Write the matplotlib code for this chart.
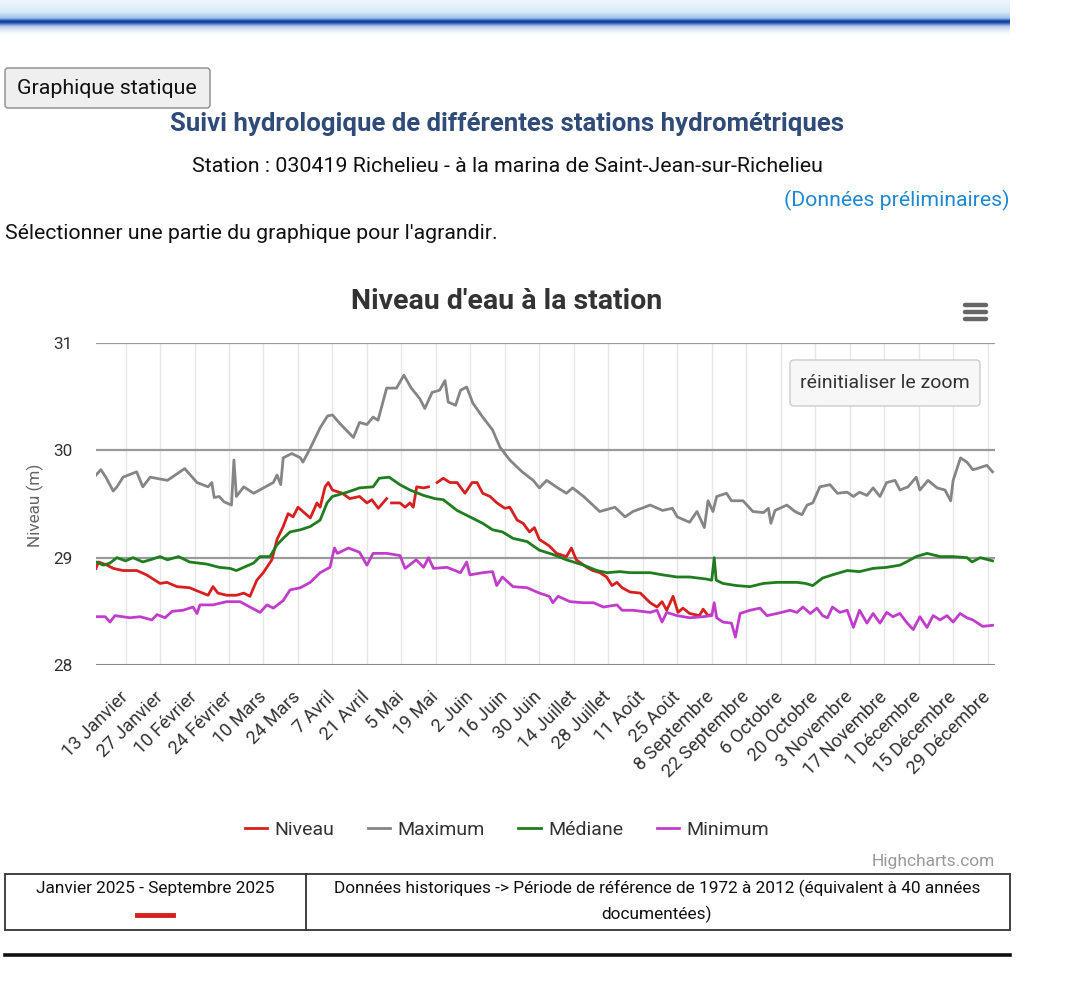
import matplotlib
matplotlib.use('Agg')
import numpy as np
import matplotlib.pyplot as plt
from matplotlib.patches import FancyBboxPatch, Rectangle
from matplotlib.colors import LinearSegmentedColormap
from matplotlib.ticker import FixedLocator, FixedFormatter

plt.rcParams['font.family'] = ['Roboto', 'DejaVu Sans']

# x axis ticks (day of year, 1 Jan = 0)
tick_labels = ['13 Janvier', '27 Janvier', '10 Février', '24 Février', '10 Mars', '24 Mars',
               '7 Avril', '21 Avril', '5 Mai', '19 Mai', '2 Juin', '16 Juin', '30 Juin',
               '14 Juillet', '28 Juillet', '11 Août', '25 Août', '8 Septembre', '22 Septembre',
               '6 Octobre', '20 Octobre', '3 Novembre', '17 Novembre', '1 Décembre',
               '15 Décembre', '29 Décembre']
tick_days = [12 + 14 * i for i in range(len(tick_labels))]

# Maximum historique
max_days = [0, 2, 4, 7, 8.5, 11, 16.5, 19, 22, 29, 36, 41, 45.5, 47, 48, 50, 52, 55, 56, 57,
            60, 64, 68, 72, 73.5, 75, 76, 79.5, 83, 84, 87, 91, 94, 96, 99, 104.5, 107, 110,
            112.5, 114.5, 118, 122, 125, 128, 131.5, 133.5, 136.5, 139.5, 141.7, 143, 146, 148,
            150.5, 153, 157, 161, 164, 168, 173, 177.5, 180, 183, 187.5, 191, 193.5, 198, 204.5,
            210.7, 214.8, 218, 225, 230, 234, 236, 241, 244, 247, 248.5, 250.5, 252, 256, 258,
            262.7, 266.7, 271, 273, 274, 275.7, 280.5, 283.8, 286.6, 288.7, 291, 293.9, 298,
            301, 305, 307.5, 310, 313, 315.5, 318.3, 321, 324.4, 326.4, 329.7, 333, 334.5,
            337.8, 341.5, 344.7, 347, 348, 351, 353.6, 356, 357.7, 359, 361.7, 364]
max_vals = [29.77, 29.82, 29.75, 29.62, 29.66, 29.75, 29.80, 29.66, 29.75, 29.72, 29.83, 29.70,
            29.66, 29.70, 29.56, 29.57, 29.52, 29.49, 29.91, 29.57, 29.66, 29.60, 29.65, 29.70,
            29.77, 29.68, 29.93, 29.97, 29.93, 29.89, 30.02, 30.21, 30.32, 30.33, 30.25, 30.12,
            30.26, 30.24, 30.31, 30.28, 30.58, 30.58, 30.70, 30.58, 30.48, 30.39, 30.54, 30.56,
            30.65, 30.45, 30.42, 30.56, 30.59, 30.44, 30.31, 30.19, 30.03, 29.91, 29.80, 29.72,
            29.65, 29.72, 29.65, 29.60, 29.65, 29.57, 29.43, 29.47, 29.38, 29.43, 29.49, 29.44,
            29.46, 29.38, 29.33, 29.43, 29.28, 29.53, 29.43, 29.57, 29.60, 29.53, 29.53, 29.43,
            29.42, 29.46, 29.32, 29.44, 29.49, 29.43, 29.40, 29.49, 29.51, 29.66, 29.68, 29.60,
            29.61, 29.57, 29.61, 29.58, 29.65, 29.57, 29.70, 29.72, 29.63, 29.66, 29.75, 29.63,
            29.72, 29.65, 29.63, 29.53, 29.72, 29.93, 29.89, 29.82, 29.83, 29.84, 29.86, 29.80]

# Mediane historique
med_days = [0, 3, 5.7, 8.5, 12, 15, 19, 22, 26, 29, 33.5, 38, 45, 50, 54.4, 57, 60, 64, 66.6,
            70.6, 73.5, 76, 78.8, 83, 87, 91, 93.8, 96, 102, 107, 112.5, 115, 119, 123.4, 127.5,
            133, 137.6, 141, 146.6, 151.8, 157, 161, 165, 169.3, 175, 180, 185.5, 191, 198,
            203.4, 207.5, 212.7, 216.8, 225, 230, 235.9, 241, 248, 250, 251, 251.8, 254.5, 260,
            265.5, 271, 276.5, 281, 284.6, 288, 291, 295, 299, 305, 310, 315.5, 321, 326.4, 329,
            333, 337.4, 342.7, 348, 353.6, 355.7, 359, 364]
med_vals = [28.96, 28.93, 28.95, 29.00, 28.97, 29.00, 28.96, 28.98, 29.01, 28.98, 29.01, 28.96,
            28.94, 28.91, 28.90, 28.88, 28.91, 28.95, 29.01, 29.01, 29.12, 29.18, 29.24, 29.26,
            29.29, 29.35, 29.51, 29.57, 29.61, 29.65, 29.66, 29.74, 29.75, 29.68, 29.63, 29.58,
            29.55, 29.54, 29.44, 29.38, 29.32, 29.26, 29.24, 29.18, 29.15, 29.07, 29.03, 28.98,
            28.93, 28.88, 28.86, 28.87, 28.86, 28.86, 28.84, 28.82, 28.82, 28.80, 28.79, 29.00,
            28.79, 28.76, 28.74, 28.73, 28.76, 28.77, 28.77, 28.77, 28.76, 28.74, 28.81, 28.84,
            28.88, 28.87, 28.90, 28.91, 28.93, 28.96, 29.01, 29.04, 29.01, 29.01, 29.00, 28.96,
            29.00, 28.97]

# Minimum historique
min_days = [0, 3.7, 5.7, 7.7, 13.8, 17.9, 22.7, 24.8, 28, 30.9, 35.3, 39.4, 41, 42.2, 47.5, 53,
            58.5, 62.5, 66.6, 69.4, 72, 76, 78.8, 83, 87, 91, 95, 96.8, 98, 102.5, 107, 110,
            112.5, 118, 123.4, 125.5, 130, 133, 135, 137, 142.5, 148, 150.5, 151.8, 157, 161,
            162.7, 165, 169.3, 175, 180, 184, 185.5, 187.6, 192.5, 198, 202, 206, 211.5, 213.6,
            218, 225, 227.8, 229.8, 231.7, 235.9, 241, 246.5, 250, 251, 252, 254.5, 258, 259.6,
            261.5, 265.5, 269.6, 272.4, 276.5, 281.8, 284.6, 287, 290, 292.7, 295, 297, 299,
            302, 305, 307.5, 310, 313, 315.5, 318.3, 321, 323.6, 326.4, 329, 331.8, 334.5,
            337.4, 339.9, 342.7, 345.5, 348, 350.8, 353.6, 356, 360, 364]
min_vals = [28.45, 28.45, 28.40, 28.46, 28.44, 28.45, 28.42, 28.47, 28.44, 28.50, 28.51, 28.54,
            28.48, 28.56, 28.56, 28.59, 28.59, 28.54, 28.49, 28.56, 28.53, 28.60, 28.70, 28.72,
            28.77, 28.86, 28.91, 29.09, 29.04, 29.09, 29.05, 28.93, 29.04, 29.04, 29.02, 28.90,
            28.98, 28.91, 29.00, 28.90, 28.91, 28.86, 28.96, 28.84, 28.86, 28.87, 28.74, 28.82,
            28.73, 28.72, 28.67, 28.64, 28.58, 28.64, 28.59, 28.58, 28.58, 28.54, 28.56, 28.51,
            28.51, 28.49, 28.51, 28.40, 28.49, 28.46, 28.44, 28.45, 28.46, 28.58, 28.44, 28.40,
            28.39, 28.26, 28.48, 28.51, 28.53, 28.46, 28.48, 28.51, 28.49, 28.54, 28.48, 28.53,
            28.46, 28.44, 28.54, 28.49, 28.51, 28.35, 28.51, 28.39, 28.48, 28.39, 28.49, 28.45,
            28.48, 28.40, 28.33, 28.45, 28.35, 28.46, 28.42, 28.46, 28.40, 28.48, 28.44, 28.42,
            28.36, 28.37]

# Niveau 2025 (nan = donnees manquantes)
niv_days = [0, 1, 4.5, 7, 11, 16.6, 20.5, 26, 28.8, 32.9, 38, 42.2, 45.5, 47.5, 49.5, 53, 57, 60,
            62.5, 65.3, 67.9, 71.4, 73.5, 76, 78, 80, 82, 87, 89.7, 91, 93, 94.3, 96, 100, 103,
            107, 110, 112, 114.6, 118, 119, 120, 123.4, 125.5, 127.5, 128.8, 130.2, 133, 135,
            136.5, 138.5, 141, 143.7, 146.6, 149.8, 152.7, 154.7, 157, 160, 162.8, 166, 168,
            171, 173.4, 176, 178, 180, 184, 187, 191, 193, 195, 199.3, 201.7, 204.6, 207.3,
            209.5, 211.5, 213.6, 216.8, 221, 225, 227.8, 229.8, 231.7, 234.3, 236.3, 238.3, 241,
            245, 246.5, 248.5, 250]
niv_vals = [28.90, 28.96, 28.93, 28.90, 28.88, 28.88, 28.84, 28.76, 28.77, 28.73, 28.72, 28.68,
            28.65, 28.73, 28.67, 28.65, 28.65, 28.67, 28.64, 28.79, 28.86, 28.98, 29.17, 29.29,
            29.41, 29.38, 29.47, 29.37, 29.51, 29.47, 29.66, 29.70, 29.63, 29.60, 29.55, 29.57,
            29.51, 29.54, 29.46, 29.55, np.nan, 29.51, 29.51, 29.47, 29.51, 29.47, 29.66, 29.65,
            29.66, np.nan, 29.70, 29.74, 29.70, 29.70, 29.60, 29.70, 29.70, 29.60, 29.57, 29.51,
            29.46, 29.47, 29.35, 29.32, 29.24, 29.28, 29.17, 29.11, 29.04, 29.01, 29.09, 28.98,
            28.91, 28.88, 28.86, 28.82, 28.74, 28.77, 28.72, 28.68, 28.67, 28.58, 28.54, 28.59,
            28.51, 28.64, 28.49, 28.53, 28.48, 28.46, 28.52, 28.46, 28.47]

W, H = 1080, 988
fig = plt.figure(figsize=(W / 100., H / 100.), dpi=100)
fig.patch.set_facecolor('white')

def fx(x):
    return x / float(W)

def fy(y):
    return 1 - y / float(H)

# chart area
x0, x1, ytop, ybot = 96, 995, 343, 665
ax = fig.add_axes([fx(x0), fy(ybot), fx(x1 - x0), (ybot - ytop) / float(H)])
ax.set_xlim(0, 365)
ax.set_ylim(28, 31)
for s in ax.spines.values():
    s.set_visible(False)

for d in tick_days:
    ax.axvline(d, color='#e6e6e6', lw=1, zorder=0)
for v in [29, 30, 31]:
    ax.axhline(v, color='#9a9a9a', lw=1.6, zorder=1)
ax.axhline(28, color='#888888', lw=2.2, zorder=1)

c_niv, c_max, c_med, c_min = '#d71f1f', '#858585', '#1f7d1f', '#c13ccb'
l1, = ax.plot(niv_days, niv_vals, color=c_niv, lw=2.0, zorder=3, label='Niveau')
l2, = ax.plot(max_days, max_vals, color=c_max, lw=2.0, zorder=3, label='Maximum')
l3, = ax.plot(med_days, med_vals, color=c_med, lw=2.0, zorder=3, label='Médiane')
l4, = ax.plot(min_days, min_vals, color=c_min, lw=2.0, zorder=3, label='Minimum')

ax.set_yticks([28, 29, 30, 31])
ax.set_yticklabels(['28', '29', '30', '31'])
ax.xaxis.set_major_locator(FixedLocator(tick_days))
ax.xaxis.set_major_formatter(FixedFormatter(tick_labels))
ax.tick_params(axis='y', length=0, pad=17, labelsize=12.3, labelcolor='#333333')
ax.tick_params(axis='x', length=0, pad=21, labelsize=13.2, labelcolor='#333333')
for lab in ax.get_xticklabels():
    lab.set_rotation(45)
    lab.set_ha('right')
    lab.set_va('center')
    lab.set_rotation_mode('anchor')

ax.legend(handles=[l1, l2, l3, l4], loc='center', ncol=4, frameon=False,
          bbox_to_anchor=(fx(507), fy(830)), bbox_transform=fig.transFigure,
          fontsize=14, handlelength=1.15, handletextpad=0.4, columnspacing=1.7,
          labelcolor='#333333')

# page overlay in pixel coordinates
pg = fig.add_axes([0, 0, 1, 1])
pg.set_xlim(0, W)
pg.set_ylim(H, 0)
pg.axis('off')
pg.patch.set_visible(False)
pg.set_zorder(5)

# top banner
band = LinearSegmentedColormap.from_list('band', [(0.0, '#eef7fe'), (0.34, '#d9ebfa'),
                                                  (0.52, '#9dbfe9'), (0.58, '#2a5cb8'),
                                                  (0.62, '#0c3590'), (0.66, '#2a5cb8'),
                                                  (0.75, '#b6c9ea'), (0.87, '#e6ecf6'),
                                                  (1.0, '#ffffff')])
grad = np.linspace(0, 1, 140).reshape(-1, 1)
pg.imshow(grad, cmap=band, extent=(0, 1010, 35, 0), aspect='auto', interpolation='bilinear')
pg.set_xlim(0, W)
pg.set_ylim(H, 0)

# bouton Graphique statique
pg.add_patch(FancyBboxPatch((5, 68), 205, 40, boxstyle='round,pad=0,rounding_size=3',
                            fc='#efefef', ec='#8a8a8a', lw=1))
pg.text(107, 89, 'Graphique statique', ha='center', va='center', fontsize=15.4, color='#111111')

pg.text(507, 124, 'Suivi hydrologique de différentes stations hydrométriques', ha='center',
        va='center', fontsize=18.5, fontweight='bold', color='#2f4b78')
pg.text(507, 167, 'Station : 030419 Richelieu - à la marina de Saint-Jean-sur-Richelieu',
        ha='center', va='center', fontsize=15.4, color='#111111')
pg.text(1009, 200, '(Données préliminaires)', ha='right', va='center', fontsize=15.3,
        color='#1e88d2')
pg.text(5, 233, "Sélectionner une partie du graphique pour l'agrandir.", ha='left',
        va='center', fontsize=15.3, color='#111111')

pg.text(507, 301, "Niveau d'eau à la station", ha='center', va='center', fontsize=20.5,
        fontweight='bold', color='#333333')
for yy in [305, 312, 319]:
    pg.plot([965, 986], [yy, yy], color='#666666', lw=3.2, solid_capstyle='round')

pg.add_patch(FancyBboxPatch((790, 360), 190, 46, boxstyle='round,pad=0,rounding_size=4',
                            fc='#f7f7f7', ec='#cccccc', lw=1))
pg.text(885, 383, 'réinitialiser le zoom', ha='center', va='center', fontsize=14,
        color='#333333')

pg.text(35, 505, 'Niveau (m)', ha='center', va='center', rotation=90, fontsize=12.3,
        color='#666666')

pg.text(995, 861, 'Highcharts.com', ha='right', va='center', fontsize=12.5, color='#999999')

# tableau sous le graphique
pg.add_patch(Rectangle((5, 874), 1005, 56, fill=False, ec='#333333', lw=1.3))
pg.plot([306, 306], [874, 930], color='#333333', lw=1.3)
pg.text(155, 888, 'Janvier 2025 - Septembre 2025', ha='center', va='center', fontsize=12.4,
        color='#111111')
pg.plot([137, 173], [915, 915], color='#d71f1f', lw=3.5)
pg.text(657, 888, 'Données historiques -> Période de référence de 1972 à 2012 (équivalent à 40 années',
        ha='center', va='center', fontsize=12.4, color='#111111')
pg.text(657, 914, 'documentées)', ha='center', va='center', fontsize=12.4, color='#111111')

pg.plot([5, 1010], [955, 955], color='#111111', lw=2.6)

fig.savefig('out.png', dpi=100, facecolor='white')
